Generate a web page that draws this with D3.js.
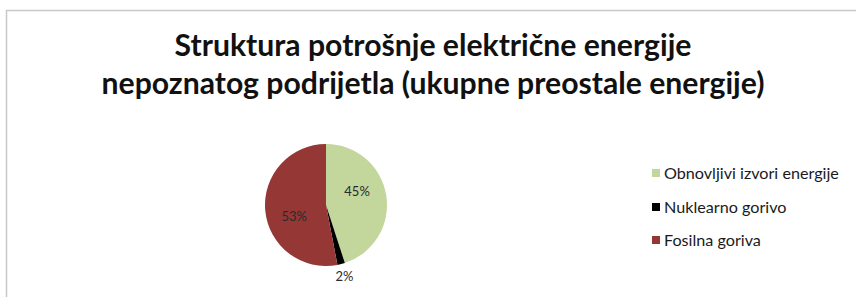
<!DOCTYPE html>
<html lang="hr">
  <head>
    <meta charset="utf-8" />
    <title>Struktura potrošnje</title>
    <script src="https://d3js.org/d3.v7.min.js"></script>
    <style>
      body { margin: 0; background: #fff; }
      svg text { font-family: Lato, "Open Sans", sans-serif; }
    </style>
  </head>
  <body>
    <div id="chart"></div>
    <script>
      // data
      const categories = ["Obnovljivi izvori energije", "Nuklearno gorivo", "Fosilna goriva"];
      const shares = [45, 2, 53];
      const colors = ["#c3d69b", "#000000", "#953735"];
      const titleLines = [
        "Struktura potrošnje električne energije",
        "nepoznatog podrijetla (ukupne preostale energije)"
      ];

      const W = 856, H = 297;
      const svg = d3.select("#chart").append("svg")
        .attr("width", W).attr("height", H);

      svg.append("rect").attr("width", W).attr("height", H).attr("fill", "#fff");

      // frame (runs off right and bottom)
      svg.append("path")
        .attr("d", "M6.5," + H + "V10.5H" + W)
        .attr("fill", "none").attr("stroke", "#c8c8c8").attr("stroke-width", 1.5);

      // title, fitted to the reference width of line 2
      const tl = svg.append("g").selectAll("text").data(titleLines).join("text")
        .attr("x", 433)
        .attr("y", (d, i) => 56 + i * 38)
        .attr("text-anchor", "middle")
        .attr("font-weight", "bold")
        .attr("font-size", 100)
        .attr("fill", "#111")
        .text(d => d);
      const w2 = tl.nodes()[1].getComputedTextLength();
      tl.attr("font-size", 100 * 663 / w2);

      // pie
      const cx = 326, cy = 205, r = 61;
      const pie = d3.pie().sort(null).value(d => d)(shares);
      const arc = d3.arc().innerRadius(0).outerRadius(r);
      const g = svg.append("g").attr("transform", `translate(${cx},${cy})`);
      g.selectAll("path").data(pie).join("path")
        .attr("d", arc)
        .attr("fill", (d, i) => colors[i]);

      // label positions: inside labels sit a bit counter-clockwise of the centroid
      const shift = -15 * Math.PI / 180;
      function labelPos(d, i) {
        const mid = (d.startAngle + d.endAngle) / 2;
        const a = i === 1 ? mid : mid + shift;
        const rr = i === 1 ? r + 13 : 34;
        return [rr * Math.sin(a), -rr * Math.cos(a)];
      }
      g.selectAll("text").data(pie).join("text")
        .attr("transform", (d, i) => `translate(${labelPos(d, i)})`)
        .attr("text-anchor", "middle")
        .attr("dy", "0.35em")
        .attr("font-size", 13)
        .attr("fill", "#2a2a2a")
        .text(d => d.data + "%");

      // legend
      const lx = 652, ly = [173, 207, 240];
      const items = svg.append("g").selectAll("g").data(categories).join("g")
        .attr("transform", (d, i) => `translate(${lx},${ly[i]})`);
      items.append("rect")
        .attr("x", 0).attr("y", -4).attr("width", 8).attr("height", 8)
        .attr("fill", (d, i) => colors[i]);
      const lt = items.append("text")
        .attr("x", 12).attr("dy", "0.35em")
        .attr("font-size", 14)
        .attr("fill", "#1a1a1a")
        .text(d => d);
      const lw = lt.nodes()[0].getComputedTextLength();
      lt.attr("font-size", 14 * 175 / lw);
    </script>
  </body>
</html>
